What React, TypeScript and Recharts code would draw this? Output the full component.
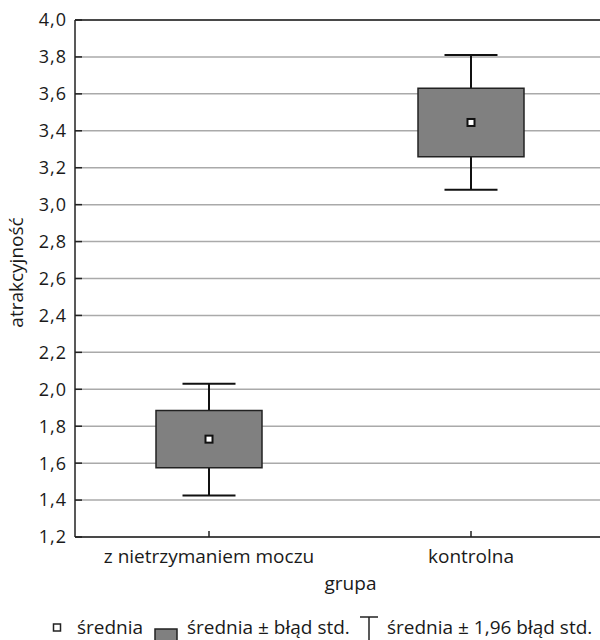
import React from 'react';
import { ComposedChart, Bar, Line, XAxis, YAxis, CartesianGrid } from 'recharts';

const groups = ['z nietrzymaniem moczu', 'kontrolna'];
const means = [1.73, 3.445];
const seLow = [1.575, 3.26];
const seHigh = [1.885, 3.63];
const ciLow = [1.425, 3.08];
const ciHigh = [2.03, 3.81];
const yTicks = [1.2, 1.4, 1.6, 1.8, 2.0, 2.2, 2.4, 2.6, 2.8, 3.0, 3.2, 3.4, 3.6, 3.8, 4.0];

const data = groups.map((g, i) => ({
  group: g,
  mean: means[i],
  se: [seLow[i], seHigh[i]],
  ci: [ciLow[i], ciHigh[i]]
}));

const FONT = '"Open Sans", sans-serif';
const TEXT = '#1a1a1a';
const AXIS = '#222';
const PAD = { left: 3, right: 0 };

const fmt = (v: number) => v.toFixed(1).replace('.', ',');

const WhiskerShape = (props: any) => {
  const { x, y, width, height } = props;
  const top = Math.min(y, y + height);
  const bottom = Math.max(y, y + height);
  const cx = x + width / 2;
  const half = width / 4;
  return (
    <g stroke="#111" strokeWidth={2}>
      <line x1={cx} x2={cx} y1={top} y2={bottom} />
      <line x1={cx - half} x2={cx + half} y1={top} y2={top} />
      <line x1={cx - half} x2={cx + half} y1={bottom} y2={bottom} />
    </g>
  );
};

const MeanDot = (props: any) => {
  const { cx, cy, index } = props;
  if (cx == null || cy == null) return <g key={index} />;
  return (
    <rect key={index} x={cx - 3.5} y={cy - 3.5} width={7} height={7}
      fill="#fff" stroke="#111" strokeWidth={2} />
  );
};

// legend sits below the chart, as in the source figure
const Legend = () => (
  <svg width={600} height={640}
    style={{ position: 'absolute', left: 0, top: 0, pointerEvents: 'none' }}>
    <g fontFamily={FONT} fontSize={19} fill={TEXT}>
      <rect x={53.5} y={624} width={7} height={7} fill="#fff" stroke="#222" strokeWidth={1.5} />
      <text x={77} y={634}>średnia</text>
      <rect x={155} y={629} width={22} height={14} fill="#808080" stroke="#222" strokeWidth={1.5} />
      <text x={187} y={634}>średnia ± błąd std.</text>
      <line x1={360} x2={378} y1={617} y2={617} stroke="#222" strokeWidth={1.5} />
      <line x1={369} x2={369} y1={617} y2={640} stroke="#222" strokeWidth={1.5} />
      <text x={387} y={634}>średnia ± 1,96 błąd std.</text>
    </g>
  </svg>
);

export default function App() {
  return (
    <div style={{
      position: 'absolute', left: 0, top: 0, width: 600, height: 640,
      overflow: 'hidden', background: '#fff', fontFamily: FONT
    }}>
      <ComposedChart width={604} height={640} data={data}
        margin={{ top: 19, right: 1, left: 0, bottom: 48 }}>
        <CartesianGrid vertical={false} stroke="#aaaaaa" strokeWidth={1.5} />
        <XAxis xAxisId="ci" dataKey="group" hide height={0} padding={PAD} />
        <XAxis
          xAxisId="main"
          dataKey="group"
          interval={0}
          padding={PAD}
          height={55}
          tickSize={-6}
          tickMargin={18.5}
          axisLine={{ stroke: AXIS, strokeWidth: 1.5 }}
          tickLine={{ stroke: AXIS, strokeWidth: 1.5 }}
          tick={{ fill: TEXT, fontSize: 19, fontFamily: FONT }}
          label={{ value: 'grupa', position: 'insideBottom', offset: 2, dx: 12, fill: TEXT, fontSize: 19, fontFamily: FONT }}
        />
        <XAxis
          xAxisId="top"
          orientation="top"
          dataKey="group"
          interval={0}
          padding={PAD}
          height={1}
          tick={false}
          tickSize={-7}
          axisLine={{ stroke: AXIS, strokeWidth: 1.5 }}
          tickLine={{ stroke: AXIS, strokeWidth: 1.5 }}
        />
        <YAxis
          domain={[1.2, 4.0]}
          ticks={yTicks}
          allowDataOverflow
          width={75}
          tickSize={-7}
          tickMargin={15}
          tickFormatter={fmt}
          axisLine={{ stroke: AXIS, strokeWidth: 1.5 }}
          tickLine={{ stroke: AXIS, strokeWidth: 1.5 }}
          tick={{ fill: TEXT, fontSize: 18, fontFamily: FONT, letterSpacing: 1 }}
          label={{ value: 'atrakcyjność', angle: -90, position: 'center', dx: -21, dy: -6, fill: TEXT, fontSize: 19, fontFamily: FONT }}
        />
        <YAxis
          yAxisId="right"
          orientation="right"
          domain={[1.2, 4.0]}
          ticks={yTicks}
          allowDataOverflow
          width={1}
          tick={false}
          tickSize={-7}
          axisLine={{ stroke: AXIS, strokeWidth: 1.5 }}
          tickLine={{ stroke: AXIS, strokeWidth: 1.5 }}
        />
        <Bar xAxisId="ci" dataKey="ci" barSize={106} shape={WhiskerShape} isAnimationActive={false} />
        <Bar xAxisId="main" dataKey="se" barSize={106} fill="#808080" stroke="#222"
          strokeWidth={1.5} isAnimationActive={false} />
        <Line xAxisId="main" dataKey="mean" stroke="none" dot={MeanDot} activeDot={false}
          isAnimationActive={false} />
      </ComposedChart>
      <Legend />
    </div>
  );
}
